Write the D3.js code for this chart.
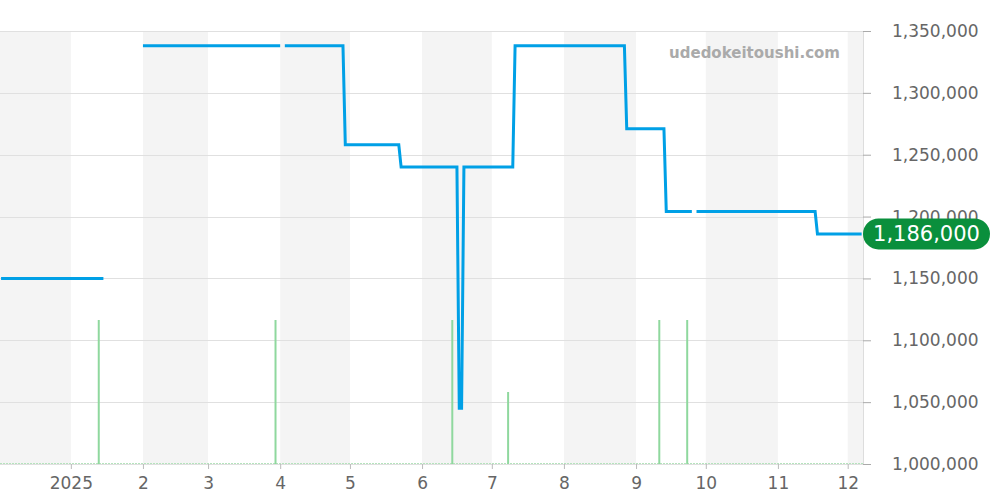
<!DOCTYPE html>
<html>
<head>
<meta charset="utf-8">
<script src="https://cdn.jsdelivr.net/npm/d3@7"></script>
<style>
  body { margin: 0; background: #fff; }
  svg { display: block; font-family: "DejaVu Sans", sans-serif; }
  svg text { font-family: "DejaVu Sans", sans-serif; }
</style>
</head>
<body>
<svg width="1000" height="500"></svg>
<script>
/* Data */

// Price steps, null = no data for that stretch
var priceDates = [
  "2024-12-02", "2025-01-15", null,
  "2025-02-01", "2025-04-01", null,
  "2025-04-03", "2025-04-28", "2025-04-29", "2025-05-22", "2025-05-23",
  "2025-06-16", "2025-06-17", "2025-06-18", "2025-06-19", "2025-07-10", "2025-07-11",
  "2025-08-27", "2025-08-28", "2025-09-13", "2025-09-14", "2025-09-25", null,
  "2025-09-27", "2025-11-17", "2025-11-18", "2025-12-07"
];
var priceValues = [
  1150000, 1150000, null,
  1338000, 1338000, null,
  1338000, 1338000, 1258000, 1258000, 1240000,
  1240000, 1045000, 1045000, 1240000, 1240000, 1338000,
  1338000, 1271000, 1271000, 1204000, 1204000, null,
  1204000, 1204000, 1186000, 1186000
];

// Trade counts
var volumeDates = ["2025-01-13", "2025-03-30", "2025-06-14", "2025-07-08", "2025-09-11", "2025-09-23"];
var volumeValues = [2, 2, 2, 1, 2, 2];

var yTicks = [1000000, 1050000, 1100000, 1150000, 1200000, 1250000, 1300000, 1350000];
var lastPrice = 1186000;
var watermark = "udedokeitoushi.com";

/* Layout */
var plot = { left: 0, right: 863, top: 31, bottom: 464 };
var parse = d3.timeParse("%Y-%m-%d");
var svg = d3.select("svg");

var x = d3.scaleTime()
  .domain([new Date(2024, 11, 1, 13), new Date(2025, 11, 7, 14)])
  .range([plot.left, plot.right]);
var y = d3.scaleLinear()
  .domain([1000000, 1350000])
  .range([plot.bottom, plot.top]);
var yVol = d3.scaleLinear()
  .domain([0, 2])
  .range([plot.bottom, 320]);

// Alternating month bands
var months = d3.timeMonth.range(new Date(2024, 11, 1), new Date(2026, 0, 1));
svg.append("g").selectAll("rect")
  .data(months.filter(function(d, i){ return i % 2 === 0; }))
  .enter().append("rect")
  .attr("x", function(d){ return Math.max(plot.left, x(d)); })
  .attr("y", plot.top)
  .attr("width", function(d){
    var x0 = Math.max(plot.left, x(d));
    var x1 = Math.min(plot.right, x(d3.timeMonth.offset(d, 1)));
    return Math.max(0, x1 - x0);
  })
  .attr("height", plot.bottom - plot.top)
  .attr("fill", "#f4f4f4");

// Horizontal grid
svg.append("g").selectAll("line")
  .data(yTicks)
  .enter().append("line")
  .attr("x1", plot.left).attr("x2", plot.right)
  .attr("y1", function(d){ return Math.round(y(d)) + 0.5; })
  .attr("y2", function(d){ return Math.round(y(d)) + 0.5; })
  .attr("stroke", "#e0e0e0");

// Volume baseline + bars
svg.append("line")
  .attr("x1", plot.left).attr("x2", plot.right)
  .attr("y1", plot.bottom - 0.5).attr("y2", plot.bottom - 0.5)
  .attr("stroke", "#b5e3bd")
  .attr("stroke-dasharray", "2,1");

svg.append("g").selectAll("line")
  .data(volumeDates.map(function(d, i){ return { date: parse(d), v: volumeValues[i] }; }))
  .enter().append("line")
  .attr("x1", function(d){ return x(d.date); })
  .attr("x2", function(d){ return x(d.date); })
  .attr("y1", plot.bottom)
  .attr("y2", function(d){ return yVol(d.v); })
  .attr("stroke", "#8fd89e")
  .attr("stroke-width", 2);

// Axes
var yAxis = svg.append("g")
  .attr("transform", "translate(" + plot.right + ",0)")
  .call(d3.axisRight(y).tickValues(yTicks).tickSize(8).tickPadding(21)
    .tickFormat(d3.format(",")));
yAxis.attr("font-family", null);
yAxis.select(".domain").attr("stroke", "#ddd").attr("d", "M0.5," + plot.top + "V" + plot.bottom);
yAxis.selectAll(".tick line").attr("stroke", "#aaa");
yAxis.selectAll("text").attr("fill", "#666").style("font-size", "17px");

var xAxis = svg.append("g")
  .attr("transform", "translate(0," + plot.bottom + ")")
  .call(d3.axisBottom(x).ticks(d3.timeMonth.every(1)).tickSize(5).tickPadding(8)
    .tickFormat(function(d){ return d.getMonth() === 0 ? d.getFullYear() : (d.getMonth() + 1); }));
xAxis.attr("font-family", null);
xAxis.select(".domain").remove();
xAxis.selectAll(".tick line").attr("stroke", "#bbb");
xAxis.selectAll("text").attr("fill", "#666").style("font-size", "17px");
xAxis.selectAll(".tick").filter(function(d){ return x(d) < plot.left + 5; }).remove();

// Watermark
svg.append("text")
  .attr("x", 840).attr("y", 53)
  .attr("text-anchor", "end")
  .attr("dominant-baseline", "middle")
  .attr("fill", "#aaa")
  .style("font-weight", "bold")
  .style("font-size", "15px")
  .text(watermark);

// Price line
var points = priceDates.map(function(d, i){
  return { date: d ? parse(d) : null, v: priceValues[i] };
});
var line = d3.line()
  .defined(function(d){ return d.date !== null && d.v !== null; })
  .x(function(d){ return x(d.date); })
  .y(function(d){ return y(d.v); });
svg.append("path")
  .datum(points)
  .attr("d", line)
  .attr("fill", "none")
  .attr("stroke", "#00a0e6")
  .attr("stroke-width", 3)
  .attr("stroke-linejoin", "miter");

// Last price badge
var badge = svg.append("g").attr("transform", "translate(863," + y(lastPrice) + ")");
badge.append("rect")
  .attr("x", 0).attr("y", -15.5)
  .attr("width", 127).attr("height", 31)
  .attr("rx", 15.5)
  .attr("fill", "#0a8f3c");
badge.append("text")
  .attr("x", 63.5).attr("y", 1)
  .attr("text-anchor", "middle")
  .attr("dominant-baseline", "middle")
  .attr("fill", "#fff")
  .style("font-size", "21px")
  .text(d3.format(",")(lastPrice));
</script>
</body>
</html>
